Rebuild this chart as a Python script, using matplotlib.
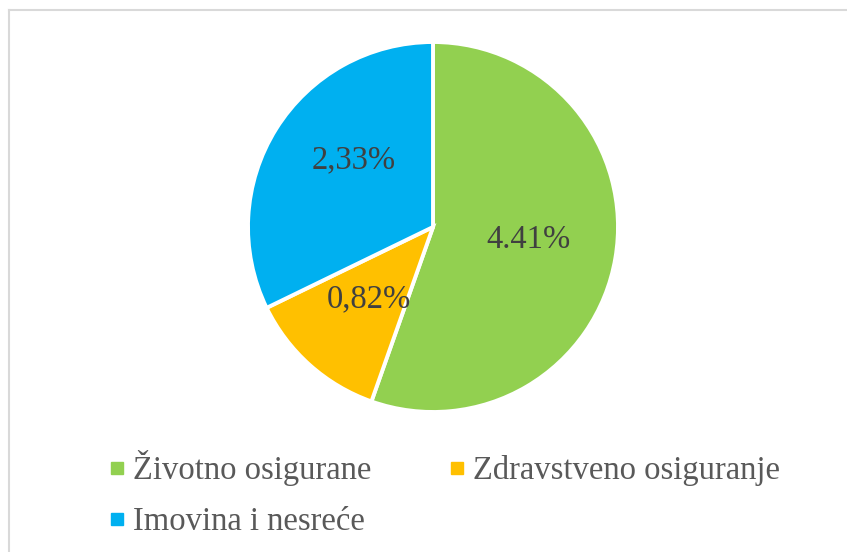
import matplotlib
matplotlib.use("Agg")
import matplotlib.pyplot as plt
from matplotlib.lines import Line2D
import numpy as np

categories = ["Životno osigurane", "Zdravstveno osiguranje", "Imovina i nesreće"]
label_texts = ["4.41%", "0,82%", "2,33%"]
# slice shares as drawn in the picture (percent of circle)
shares = [55.4, 12.4, 32.2]
colors = ["#92D050", "#FFC000", "#00B0F0"]

plt.rcParams['font.family'] = ['Liberation Serif', 'DejaVu Serif']

W, H = 847, 552
fig = plt.figure(figsize=(W / 100, H / 100), dpi=100)
fig.patch.set_facecolor("white")

# pie axes: center (433, 227) px from top, radius 185 px
cx, cy, r = 433, 227, 185
ax = fig.add_axes([(cx - r) / W, (H - cy - r) / H, 2 * r / W, 2 * r / H])
wedges, _ = ax.pie(shares, colors=colors, startangle=90, counterclock=False,
                   radius=1.0,
                   wedgeprops=dict(edgecolor="white", linewidth=2.8))
ax.set_xlim(-1.0, 1.0)
ax.set_ylim(-1.0, 1.0)
ax.set_aspect("equal")
ax.axis("off")

label_dist = [0.52, 0.52, 0.56]
label_rot = [2, 0, -8]
for w, t, d, dr in zip(wedges, label_texts, label_dist, label_rot):
    ang = np.deg2rad((w.theta1 + w.theta2) / 2 + dr)
    ax.text(d * np.cos(ang), d * np.sin(ang), t, ha="center", va="center",
            fontsize=23.5, color="#404040")

handles = [Line2D([], [], marker="s", linestyle="none", markersize=8,
                  markerfacecolor=c, markeredgecolor=c) for c in colors]
order = [0, 2, 1]
leg = fig.legend([handles[i] for i in order], [categories[i] for i in order],
                 loc="upper left",
                 bbox_to_anchor=(91 / W, 1 - 434 / H), ncol=2, frameon=False,
                 fontsize=23.5, labelcolor="#595959", handlelength=0.6,
                 handletextpad=0.2, columnspacing=2.3, labelspacing=0.62,
                 borderpad=0.0)

# light frame (top and left edges visible)
fig.add_artist(Line2D([8.5 / W, 8.5 / W], [0, 1 - 9.5 / H], color="#D9D9D9",
                      linewidth=1.5, transform=fig.transFigure))
fig.add_artist(Line2D([8.5 / W, 1], [1 - 9.5 / H, 1 - 9.5 / H], color="#D9D9D9",
                      linewidth=1.5, transform=fig.transFigure))

fig.savefig("out.png", dpi=100)
